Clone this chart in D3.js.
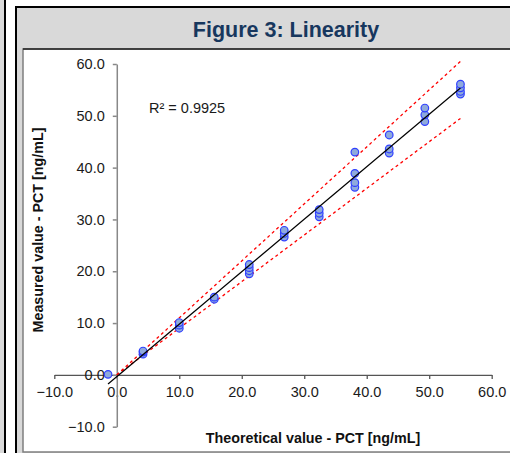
<!DOCTYPE html>
<html>
<head>
<meta charset="utf-8">
<script src="https://cdn.jsdelivr.net/npm/d3@7.9.0/dist/d3.min.js"></script>
<style>
  body { margin: 0; background: #fff; }
  svg { display: block; font-family: Arial, "Liberation Sans", sans-serif; }
</style>
</head>
<body>
<svg id="chart" width="510" height="453"></svg>
<script>
// theoretical concentration of each dilution level
const theoretical = [-1.4, 4.2, 10.0, 15.6, 21.2, 26.8, 32.4, 38.1, 43.6, 49.3, 55.0];
// replicate measurements at each level
const measured = [
  [0.1],
  [4.0, 4.4, 4.6],
  [9.0, 9.6, 10.1],
  [14.6, 15.0],
  [19.5, 20.1, 20.7, 21.3],
  [26.6, 27.3, 27.9],
  [30.5, 31.2, 31.9],
  [36.2, 37.1, 38.9, 43.0],
  [42.8, 43.6, 46.3],
  [48.9, 50.2, 51.5],
  [54.2, 54.7, 55.4, 56.1]
];
const xTicks = [-10, 0, 10, 20, 30, 40, 50, 60];
const yTicks = [-10, 0, 10, 20, 30, 40, 50, 60];
const limitFactors = [1.1, 0.9];   // +/-10% acceptance lines
const limitRange = [0, 55];
const r2Label = 'R² = 0.9925';

const svg = d3.select('#chart');

// outer frames (left neighbour panel + this panel)
svg.append('rect').attr('x', 0).attr('y', 0).attr('width', 5).attr('height', 453).attr('fill', '#d9d9d9');
svg.append('line').attr('x1', 5).attr('x2', 5).attr('y1', 0).attr('y2', 453).attr('stroke', '#000').attr('stroke-width', 2);
svg.append('rect').attr('x', 16).attr('y', 7).attr('width', 500).attr('height', 450)
  .attr('fill', '#d9d9d9').attr('stroke', '#000').attr('stroke-width', 2);
svg.append('rect').attr('x', 23).attr('y', 49).attr('width', 495).attr('height', 403)
  .attr('fill', '#fff').attr('stroke', '#7f7f7f').attr('stroke-width', 1.5);
svg.append('line').attr('x1', 23).attr('x2', 510).attr('y1', 49).attr('y2', 49).attr('stroke', '#222').attr('stroke-width', 1.5);

svg.append('text')
  .attr('x', 286).attr('y', 37)
  .attr('text-anchor', 'middle')
  .attr('font-size', 21.5).attr('font-weight', 'bold')
  .attr('fill', '#17375e')
  .text('Figure 3: Linearity');

const x = d3.scaleLinear().domain([-10, 60]).range([54.3, 491.7]);
const y = d3.scaleLinear().domain([-10, 60]).range([426.7, 64]);

// axes
const xAxis = svg.append('g')
  .attr('transform', `translate(0,${y(0)})`)
  .call(d3.axisBottom(x).tickValues(xTicks).tickFormat(d3.format('.1f')).tickSize(4).tickSizeOuter(0).tickPadding(8));
const yAxis = svg.append('g')
  .attr('transform', `translate(${x(0)},0)`)
  .call(d3.axisLeft(y).tickValues(yTicks).tickFormat(d3.format('.1f')).tickSize(4).tickSizeOuter(0).tickPadding(8));

xAxis.selectAll('path, line').attr('stroke', '#555').attr('stroke-width', 1.3);
yAxis.selectAll('path, line').attr('stroke', '#888').attr('stroke-width', 1.5);
svg.selectAll('.tick text').attr('font-size', 14.5).attr('fill', '#1a1a1a').attr('font-family', null);

// flatten points
const points = [];
theoretical.forEach((t, i) => {
  measured[i].forEach(m => points.push({ t: t, m: m }));
});

// linear regression of the points
const mx = d3.mean(points, d => d.t);
const my = d3.mean(points, d => d.m);
const slope = d3.sum(points, d => (d.t - mx) * (d.m - my)) / d3.sum(points, d => (d.t - mx) ** 2);
const intercept = my - slope * mx;
const xExtent = d3.extent(points, d => d.t);

const line = d3.line().x(d => x(d[0])).y(d => y(d[1]));

limitFactors.forEach(f => {
  svg.append('path')
    .attr('d', line(limitRange.map(v => [v, v * f])))
    .attr('fill', 'none')
    .attr('stroke', '#ff0000')
    .attr('stroke-width', 1.3)
    .attr('stroke-dasharray', '3,3');
});

svg.append('g').selectAll('circle')
  .data(points)
  .join('circle')
  .attr('cx', d => x(d.t))
  .attr('cy', d => y(d.m))
  .attr('r', 3.8)
  .attr('fill', '#8faadc')
  .attr('stroke', '#2f3fff')
  .attr('stroke-width', 1.2);

svg.append('path')
  .attr('d', line(xExtent.map(v => [v, slope * v + intercept])))
  .attr('fill', 'none')
  .attr('stroke', '#000')
  .attr('stroke-width', 1.2);

svg.append('text')
  .attr('x', 149).attr('y', 113)
  .attr('font-size', 14.5).attr('fill', '#1a1a1a')
  .text(r2Label);

// axis titles
svg.append('text')
  .attr('x', 313).attr('y', 443)
  .attr('text-anchor', 'middle')
  .attr('font-size', 14.3).attr('font-weight', 'bold').attr('fill', '#111')
  .text('Theoretical value - PCT [ng/mL]');
svg.append('text')
  .attr('transform', 'translate(43,230) rotate(-90)')
  .attr('text-anchor', 'middle')
  .attr('font-size', 14.3).attr('font-weight', 'bold').attr('fill', '#111')
  .text('Measured value - PCT [ng/mL]');
</script>
</body>
</html>
